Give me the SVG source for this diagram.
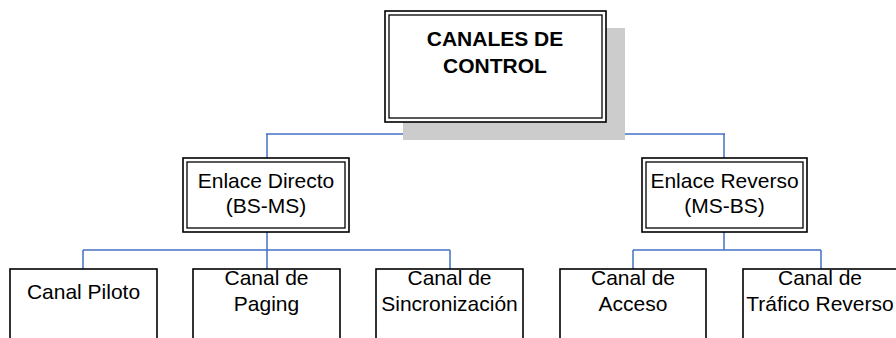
<svg xmlns="http://www.w3.org/2000/svg" width="896" height="338" viewBox="0 0 896 338">
<style>
.t{font-family:"Liberation Sans",Arial,sans-serif;font-size:21px;fill:#000;text-anchor:middle}
.b{font-weight:bold}
.o{fill:#fff;stroke:#000;stroke-width:1.6}
.i{fill:none;stroke:#000;stroke-width:1.3}
.c{fill:none;stroke:#4472c4;stroke-width:1.5}
</style>
<rect width="896" height="338" fill="#fff"/>
<g id="connectors">
<path class="c" d="M496 122V134M266 134H725M267 134V158M724 134V158"/>
<path class="c" d="M267 232V269M83 250H450M83 250V269M450 250V269"/>
<path class="c" d="M724 232V250M633 250H821M633 250V269M821 250V269"/>
</g>
<g id="canales-de-control">
<rect x="403" y="28" width="222" height="112" fill="#cccccc"/>
<rect class="o" x="385" y="11" width="221" height="111"/>
<rect class="i" x="389" y="15" width="213" height="103"/>
<text class="t b" x="495" y="46">CANALES DE</text>
<text class="t b" x="495" y="73">CONTROL</text>
</g>
<g id="enlace-directo">
<rect class="o" x="183" y="158" width="166" height="74"/>
<rect class="i" x="187" y="162" width="158" height="66"/>
<text class="t" x="266" y="188">Enlace Directo</text>
<text class="t" x="266" y="213">(BS-MS)</text>
</g>
<g id="enlace-reverso">
<rect class="o" x="642" y="158" width="165" height="74"/>
<rect class="i" x="646" y="162" width="157" height="66"/>
<text class="t" x="724.5" y="188">Enlace Reverso</text>
<text class="t" x="724.5" y="213">(MS-BS)</text>
</g>
<g id="canal-piloto">
<rect class="o" x="10" y="269" width="147" height="80"/>
<text class="t" x="83.5" y="299">Canal Piloto</text>
</g>
<g id="canal-paging">
<rect class="o" x="193" y="269" width="147" height="80"/>
<text class="t" x="266.5" y="285">Canal de</text>
<text class="t" x="266.5" y="311">Paging</text>
</g>
<g id="canal-sincronizacion">
<rect class="o" x="376" y="269" width="147" height="80"/>
<text class="t" x="449.5" y="285">Canal de</text>
<text class="t" x="449.5" y="311">Sincronización</text>
</g>
<g id="canal-acceso">
<rect class="o" x="560" y="269" width="146" height="80"/>
<text class="t" x="633" y="285">Canal de</text>
<text class="t" x="633" y="311">Acceso</text>
</g>
<g id="canal-trafico-reverso">
<rect class="o" x="743" y="269" width="156" height="80"/>
<text class="t" x="820" y="285">Canal de</text>
<text class="t" x="820" y="311">Tráfico Reverso</text>
</g>
</svg>
